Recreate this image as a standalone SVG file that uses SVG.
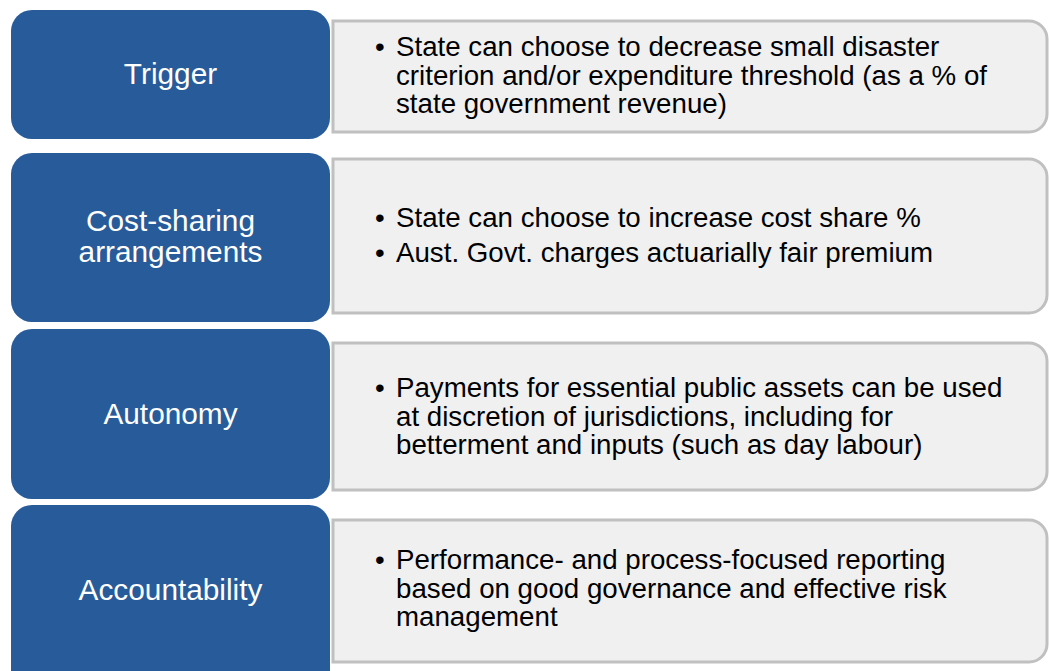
<svg xmlns="http://www.w3.org/2000/svg" width="1049" height="671" viewBox="0 0 1049 671">
<style>
.lbl{fill:#285b9a}
.box{fill:#f0f0f0;stroke:#c0c0c0;stroke-width:3}
.lt{font-family:"Liberation Sans",Arial,sans-serif;font-size:29.8px;fill:#ffffff;text-anchor:middle}
.bt{font-family:"Liberation Sans",Arial,sans-serif;font-size:27.7px;fill:#000000}
</style>
<rect width="1049" height="671" fill="#ffffff"/>
<g id="row-trigger">
<rect class="lbl" x="11" y="10" width="319" height="129" rx="21"/>
<text class="lt" x="170.5" y="84">Trigger</text>
<path class="box" d="M333 21 H1029 A18 18 0 0 1 1047 39 V114 A18 18 0 0 1 1029 132 H333 Z"/>
<text class="bt" x="375" y="56">•</text>
<text class="bt" x="396" y="56">State can choose to decrease small disaster</text>
<text class="bt" x="396" y="84.5">criterion and/or expenditure threshold (as a % of</text>
<text class="bt" x="396" y="113">state government revenue)</text>
</g>
<g id="row-cost">
<rect class="lbl" x="11" y="153" width="319" height="169" rx="21"/>
<text class="lt" x="170.5" y="231">Cost-sharing</text>
<text class="lt" x="170.5" y="262">arrangements</text>
<path class="box" d="M333 159 H1029 A18 18 0 0 1 1047 177 V295 A18 18 0 0 1 1029 313 H333 Z"/>
<text class="bt" x="375" y="227">•</text>
<text class="bt" x="396" y="227">State can choose to increase cost share %</text>
<text class="bt" x="375" y="261.5">•</text>
<text class="bt" x="396" y="261.5">Aust. Govt. charges actuarially fair premium</text>
</g>
<g id="row-autonomy">
<rect class="lbl" x="11" y="329" width="319" height="170" rx="21"/>
<text class="lt" x="170.5" y="423.5">Autonomy</text>
<path class="box" d="M333 343 H1029 A18 18 0 0 1 1047 361 V472 A18 18 0 0 1 1029 490 H333 Z"/>
<text class="bt" x="375" y="397">•</text>
<text class="bt" x="396" y="397">Payments for essential public assets can be used</text>
<text class="bt" x="396" y="425.5">at discretion of jurisdictions, including for</text>
<text class="bt" x="396" y="454">betterment and inputs (such as day labour)</text>
</g>
<g id="row-accountability">
<rect class="lbl" x="11" y="505" width="319" height="190" rx="21"/>
<text class="lt" x="170.5" y="600">Accountability</text>
<path class="box" d="M333 520 H1029 A18 18 0 0 1 1047 538 V644 A18 18 0 0 1 1029 662 H333 Z"/>
<text class="bt" x="375" y="569">•</text>
<text class="bt" x="396" y="569">Performance- and process-focused reporting</text>
<text class="bt" x="396" y="597.5">based on good governance and effective risk</text>
<text class="bt" x="396" y="626">management</text>
</g>
<g id="connectors"></g>
</svg>
